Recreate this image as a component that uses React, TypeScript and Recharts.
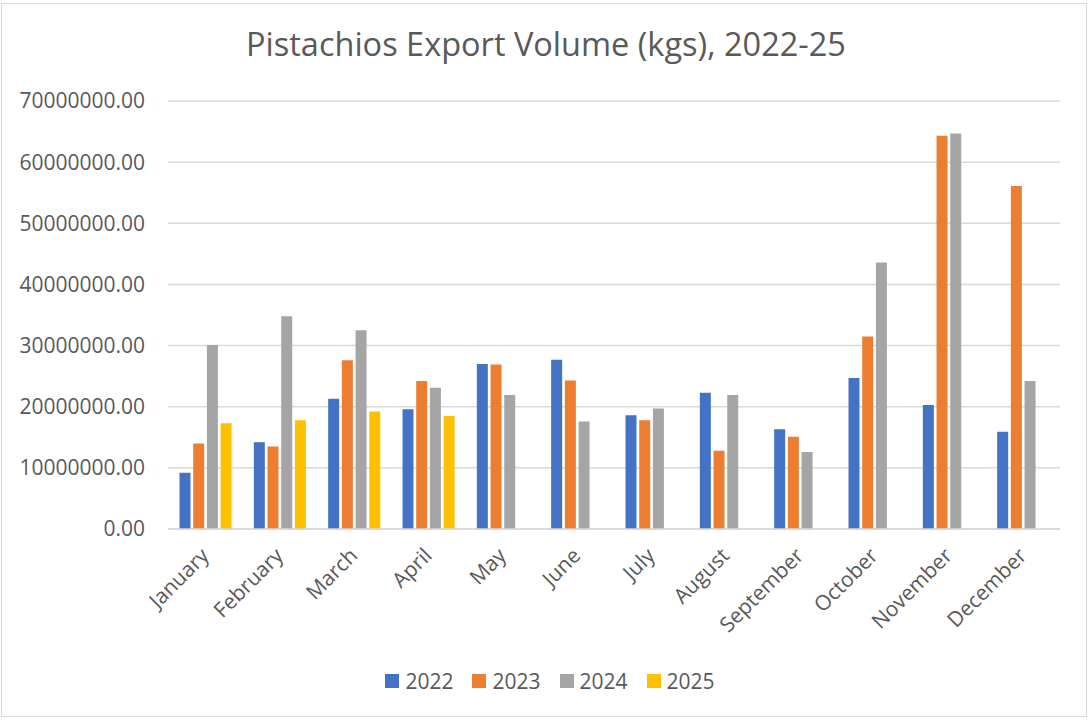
import React from "react";
import { BarChart, Bar, XAxis, YAxis, CartesianGrid, Legend } from "recharts";

const months = ["January","February","March","April","May","June","July","August","September","October","November","December"];
const v2022 = [9.2e6, 14.2e6, 21.3e6, 19.6e6, 27.0e6, 27.7e6, 18.6e6, 22.3e6, 16.3e6, 24.7e6, 20.3e6, 15.9e6];
const v2023 = [14.0e6, 13.5e6, 27.6e6, 24.2e6, 26.9e6, 24.3e6, 17.8e6, 12.8e6, 15.1e6, 31.5e6, 64.3e6, 56.1e6];
const v2024 = [30.1e6, 34.8e6, 32.5e6, 23.1e6, 21.9e6, 17.6e6, 19.7e6, 21.9e6, 12.6e6, 43.6e6, 64.7e6, 24.2e6];
const v2025: (number | null)[] = [17.3e6, 17.8e6, 19.2e6, 18.5e6, null, null, null, null, null, null, null, null];
const yTicks = [0, 10e6, 20e6, 30e6, 40e6, 50e6, 60e6, 70e6];
const seriesNames = ["2022", "2023", "2024", "2025"];
const colors = ["#4472C4", "#ED7D31", "#A5A5A5", "#FFC000"];

const data = months.map((m, i) => ({
  month: m,
  "2022": v2022[i],
  "2023": v2023[i],
  "2024": v2024[i],
  "2025": v2025[i],
}));

const FONT = "'Open Sans', sans-serif";
const TEXT = "#595959";

const XTick = (props: any) => {
  const { x, y, payload } = props;
  const ax = x + 5;
  const ay = y + 20;
  return (
    <text
      x={ax}
      y={ay}
      transform={`rotate(-45, ${ax}, ${ay})`}
      textAnchor="end"
      fill={TEXT}
      fontSize={21}
      fontFamily={FONT}
    >
      {payload.value}
    </text>
  );
};

const LegendContent = () => (
  <div style={{ display: "flex", justifyContent: "center", alignItems: "center", height: 40, paddingLeft: 40 }}>
    {seriesNames.map((n, i) => (
      <div key={n} style={{ display: "flex", alignItems: "center", marginRight: i < 3 ? 19 : 0 }}>
        <span style={{ width: 14, height: 14, background: colors[i], display: "inline-block", marginRight: 6 }} />
        <span style={{ fontFamily: FONT, fontSize: 21, color: TEXT }}>{n}</span>
      </div>
    ))}
  </div>
);

export default function App() {
  return (
    <div style={{ position: "fixed", left: 0, top: 0, width: 1092, height: 721, background: "#fff" }}>
      <div style={{ position: "absolute", left: 1, top: 3, width: 1086, height: 714, border: "1.5px solid #d9d9d9", boxSizing: "border-box" }} />
      <div style={{ position: "absolute", left: 0, width: 1092, textAlign: "center", top: 22, fontFamily: FONT, fontSize: 32.5, color: TEXT, lineHeight: "44px" }}>
        Pistachios Export Volume (kgs), 2022-25
      </div>
      <div style={{ position: "absolute", left: 0, top: 0 }}>
        <BarChart
          width={1092}
          height={721}
          data={data}
          margin={{ top: 101, right: 32, bottom: 20, left: 0 }}
          barGap={2.7}
          barCategoryGap={11.5}
        >
          <CartesianGrid vertical={false} stroke="#d9d9d9" strokeWidth={1.5} />
          <XAxis
            dataKey="month"
            interval={0}
            height={132}
            tickLine={false}
            axisLine={{ stroke: "#d9d9d9", strokeWidth: 1.5 }}
            tick={<XTick />}
          />
          <YAxis
            domain={[0, 70000000]}
            ticks={yTicks}
            width={168}
            tickLine={false}
            axisLine={false}
            tickMargin={17}
            tickFormatter={(v: number) => v.toFixed(2)}
            tick={{ fill: TEXT, fontSize: 21, fontFamily: FONT }}
          />
          <Legend verticalAlign="bottom" content={<LegendContent />} wrapperStyle={{ height: 40 }} />
          {seriesNames.map((n, i) => (
            <Bar key={n} dataKey={n} fill={colors[i]} isAnimationActive={false} />
          ))}
        </BarChart>
      </div>
    </div>
  );
}
